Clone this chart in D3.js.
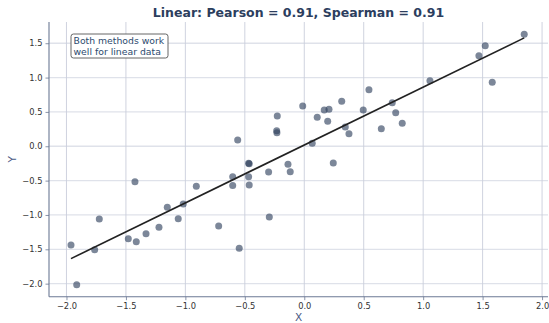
<!DOCTYPE html>
<html><head><meta charset="utf-8">
<script src="https://cdn.jsdelivr.net/npm/d3@7"></script>
<style>body{margin:0;background:#fff}svg{display:block}</style>
</head><body>
<script>
const xValues = [-1.962,-1.914,-1.763,-1.724,-1.480,-1.424,-1.413,-1.331,-1.222,-1.152,-1.060,-1.018,-0.908,-0.720,-0.602,-0.602,-0.560,-0.547,-0.468,-0.463,-0.468,-0.463,-0.300,-0.294,-0.227,-0.232,-0.230,-0.137,-0.118,-0.013,0.067,0.109,0.168,0.208,0.197,0.244,0.315,0.345,0.376,0.496,0.544,0.648,0.740,0.769,0.824,1.057,1.469,1.522,1.581,1.850];
const yValues = [-1.437,-2.015,-1.505,-1.058,-1.345,-0.515,-1.389,-1.272,-1.179,-0.888,-1.054,-0.840,-0.582,-1.160,-0.442,-0.573,0.092,-1.485,-0.248,-0.255,-0.442,-0.563,-0.374,-1.029,0.441,0.227,0.198,-0.262,-0.370,0.587,0.044,0.422,0.528,0.539,0.364,-0.243,0.655,0.281,0.183,0.528,0.824,0.256,0.635,0.489,0.335,0.955,1.319,1.464,0.932,1.630];
const xTicks = [-2.0,-1.5,-1.0,-0.5,0.0,0.5,1.0,1.5,2.0];
const yTicks = [-2.0,-1.5,-1.0,-0.5,0.0,0.5,1.0,1.5];
const titleText = "Linear: Pearson = 0.91, Spearman = 0.91";
const noteLines = ["Both methods work","well for linear data"];

const W=549,H=323;
const m={l:49,r:1,t:22,b:26.3};
const svg=d3.select("body").append("svg").attr("width",W).attr("height",H);
const x=d3.scaleLinear().domain([-2.147,2.05]).range([m.l,W-m.r]);
const y=d3.scaleLinear().domain([-2.19,1.809]).range([H-m.b,m.t]);
const fmt=d3.format(".1f");
const minus=s=>s.replace("-","\u2212");

// grid
svg.append("g").selectAll("line").data(yTicks).join("line")
 .attr("x1",m.l).attr("x2",W-m.r).attr("y1",d=>y(d)).attr("y2",d=>y(d))
 .attr("stroke","#dfe2ea").attr("stroke-width",1.3);
svg.append("g").selectAll("line").data(xTicks).join("line")
 .attr("x1",d=>x(d)).attr("x2",d=>x(d)).attr("y1",m.t).attr("y2",H-m.b)
 .attr("stroke","#c9cedb").attr("stroke-width",0.9);

// axes
const axCol="#6b7894";
const gx=svg.append("g").attr("transform",`translate(0,${H-m.b})`)
 .call(d3.axisBottom(x).tickValues(xTicks).tickFormat(d=>minus(fmt(d))).tickSize(3.5).tickPadding(3));
const gy=svg.append("g").attr("transform",`translate(${m.l},0)`)
 .call(d3.axisLeft(y).tickValues(yTicks).tickFormat(d=>minus(fmt(d))).tickSize(3.5).tickPadding(3));
[gx,gy].forEach(g=>{
 g.select(".domain").attr("stroke",axCol).attr("stroke-width",1.1);
 g.selectAll(".tick line").attr("stroke",axCol).attr("stroke-width",0.8);
 g.selectAll(".tick text").attr("fill","#333").attr("font-family","DejaVu Sans").attr("font-size",8.3);
});
gx.select(".domain").attr("d",`M${m.l},0H${W-m.r}`);
gy.select(".domain").attr("d",`M0,${m.t}V${H-m.b}`);

// points
const pts=xValues.map((v,i)=>({x:v,y:yValues[i]}));
svg.append("g").selectAll("circle").data(pts).join("circle")
 .attr("cx",d=>x(d.x)).attr("cy",d=>y(d.y)).attr("r",3.5)
 .attr("fill","#2c3e5a").attr("fill-opacity",0.62);

// regression line
const mx=d3.mean(xValues),my=d3.mean(yValues);
const slope=d3.sum(pts,d=>(d.x-mx)*(d.y-my))/d3.sum(pts,d=>(d.x-mx)**2);
const icp=my-slope*mx;
const [x0,x1]=d3.extent(xValues);
svg.append("line").attr("x1",x(x0)).attr("y1",y(icp+slope*x0)).attr("x2",x(x1)).attr("y2",y(icp+slope*x1))
 .attr("stroke","#222").attr("stroke-width",1.6);

// title
svg.append("text").attr("x",(m.l+W-m.r)/2).attr("y",17).attr("text-anchor","middle")
 .attr("font-family","DejaVu Sans").attr("font-weight","bold").attr("font-size",12.5).attr("fill","#2c3e5e").text(titleText);

// labels
svg.append("text").attr("x",(m.l+W-m.r)/2).attr("y",321).attr("text-anchor","middle")
 .attr("font-family","DejaVu Sans").attr("font-size",10.5).attr("fill","#4a5a85").text("X");
svg.append("text").attr("transform",`translate(16,${(m.t+H-m.b)/2}) rotate(-90)`).attr("text-anchor","middle")
 .attr("font-family","DejaVu Sans").attr("font-size",10.5).attr("fill","#4a5a85").text("Y");

// annotation
const ng=svg.append("g");
ng.append("rect").attr("x",71).attr("y",34).attr("width",97).attr("height",24).attr("rx",2.5)
 .attr("fill","#fff").attr("stroke","#555").attr("stroke-width",0.9);
ng.selectAll("text").data(noteLines).join("text").attr("x",73.5).attr("y",(d,i)=>44+i*10.5)
 .attr("font-family","DejaVu Sans").attr("font-size",9.3).attr("fill","#2c4a6e").text(d=>d);
</script>
</body></html>
